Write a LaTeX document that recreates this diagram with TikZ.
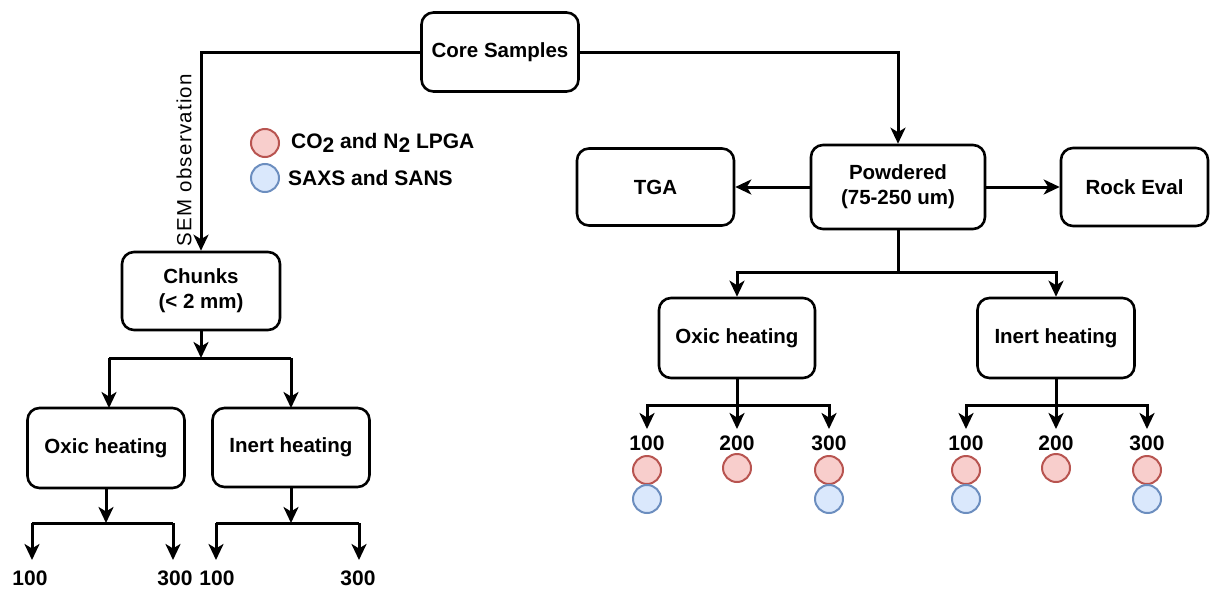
\documentclass[tikz,border=0pt]{standalone}
\usepackage{fontspec}
\setmainfont{Liberation Sans}
\usetikzlibrary{arrows.meta}
\definecolor{redfill}{HTML}{F8CECC}
\definecolor{redline}{HTML}{B85450}
\definecolor{bluefill}{HTML}{DAE8FC}
\definecolor{blueline}{HTML}{6C8EBF}
\tikzset{
  box/.style={draw, rounded corners=12pt, line width=2.6pt, align=center, inner sep=0pt,
    font=\bfseries\fontsize{20.5}{25}\selectfont},
  conn/.style={line width=3pt, -{Stealth[length=16pt,width=15pt,inset=4.5pt]}},
  plain/.style={line width=3pt},
  lbl/.style={font=\bfseries\fontsize{21}{24}\selectfont, inner sep=0pt},
  redc/.style={circle, draw=redline, fill=redfill, line width=2pt, minimum size=28pt, inner sep=0pt},
  bluec/.style={circle, draw=blueline, fill=bluefill, line width=2pt, minimum size=28pt, inner sep=0pt},
}
\begin{document}
\begin{tikzpicture}[x=1pt,y=-1pt]
\useasboundingbox (0,0) rectangle (1210,589);
% boxes
\node[box, minimum width=157pt, minimum height=79pt] (core) at (500,52) {Core Samples};
\node[box, minimum width=157pt, minimum height=77pt] (tga) at (655.5,187) {TGA};
\node[box, minimum width=174pt, minimum height=84pt] (powd) at (898,187) {Powdered\\(75-250 um)};
\node[box, minimum width=147pt, minimum height=78pt] (rock) at (1134.5,187) {Rock Eval};
\node[box, minimum width=156pt, minimum height=80pt] (oxr) at (737,338) {Oxic heating};
\node[box, minimum width=157pt, minimum height=80pt] (inr) at (1056,338) {Inert heating};
\node[box, minimum width=158pt, minimum height=78pt] (chunks) at (201,291) {Chunks\\(< 2 mm)};
\node[box, minimum width=157pt, minimum height=80pt] (oxl) at (106,448) {Oxic heating};
\node[box, minimum width=157pt, minimum height=79pt] (inl) at (291,447.5) {Inert heating};

% SEM label
\node[rotate=90, font=\fontsize{20.5}{24}\selectfont\addfontfeature{LetterSpace=6}, inner sep=0pt] (sem) at (184,160) {SEM observation};

% legend
\node[redc] (lr) at (265,143) {};
\node[bluec] (lb) at (265,178) {};
\node[lbl, anchor=west] (ltr) at (291,143) {CO\raisebox{-0.35ex}{2} and N\raisebox{-0.35ex}{2} LPGA};
\node[lbl, anchor=west] (ltb) at (288,178) {SAXS and SANS};

% top connectors
\draw[conn] (core.west) -| (chunks.north);
\draw[conn] (core.east) -| (powd.north);
\draw[conn] (powd.west) -- (tga.east);
\draw[conn] (powd.east) -- (rock.west);

% powdered split
\coordinate (pj) at (898,272);
\draw[plain] (powd.south) -- (pj);
\draw[conn] (pj) -| (oxr.north);
\draw[conn] (pj) -| (inr.north);

% right temperature labels
\node[lbl] (ta) at (647,443) {100};
\node[lbl] (tb) at (737,443) {200};
\node[lbl] (tc) at (829,443) {300};
\node[lbl] (td) at (966,443) {100};
\node[lbl] (te) at (1056,443) {200};
\node[lbl] (tf) at (1147,443) {300};

\coordinate (oj) at (737,405);
\coordinate (ij) at (1056,405);
\draw[conn] (oxr.south) -- (737,429);
\draw[conn] (oj) -| (647,429);
\draw[conn] (oj) -| (829,429);
\draw[conn] (inr.south) -- (1056,429);
\draw[conn] (ij) -| (966,429);
\draw[conn] (ij) -| (1147,429);

% circles
\node[redc] (ra) at (647,470) {};
\node[bluec] (ba) at (647,499) {};
\node[redc] (rb) at (737,468) {};
\node[redc] (rc) at (829,470) {};
\node[bluec] (bc) at (829,499) {};
\node[redc] (rd) at (966,470) {};
\node[bluec] (bd) at (966,499) {};
\node[redc] (re) at (1056,468) {};
\node[redc] (rf) at (1147,470) {};
\node[bluec] (bf) at (1147,499) {};

% chunks split
\coordinate (cj) at (201,358);
\draw[conn] (chunks.south) -- (cj);
\draw[plain] (109,358) -- (291,358);
\draw[conn] (109,358) -- (109,408);
\draw[conn] (291,358) -- (291,408);

% left temperature
\coordinate (lj1) at (106,523);
\coordinate (lj2) at (291,523);
\draw[conn] (oxl.south) -- (lj1);
\draw[plain] (32,523) -- (173,523);
\draw[conn] (32,523) -- (32,560);
\draw[conn] (173,523) -- (173,560);
\draw[conn] (inl.south) -- (lj2);
\draw[plain] (216,523) -- (359,523);
\draw[conn] (216,523) -- (216,560);
\draw[conn] (359,523) -- (359,560);
\node[lbl] (l1) at (30,578) {100};
\node[lbl] (l2) at (175,578) {300};
\node[lbl] (l3) at (217,578) {100};
\node[lbl] (l4) at (358,578) {300};
\end{tikzpicture}
\end{document}
